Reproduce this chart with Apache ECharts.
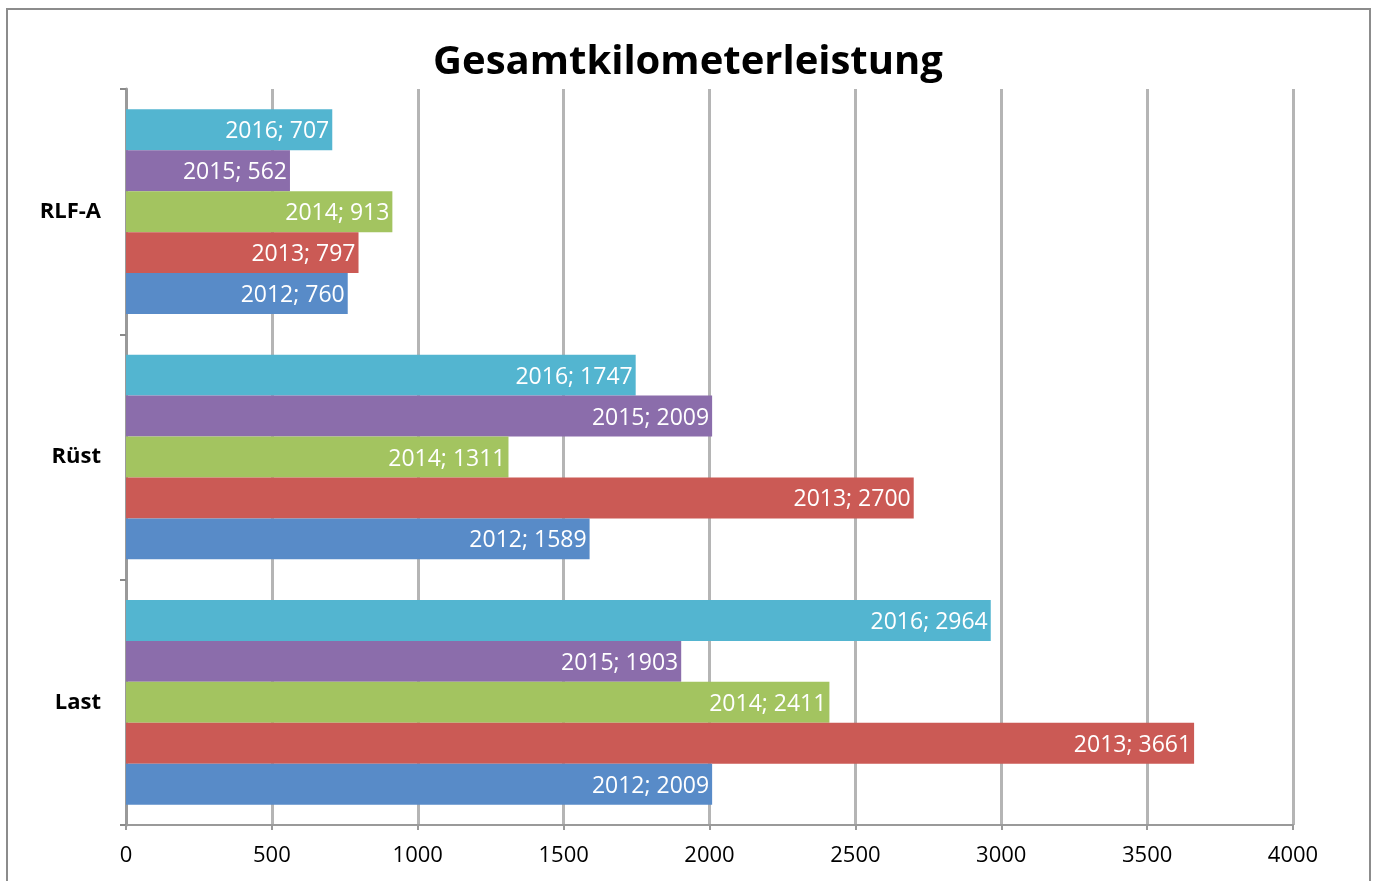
<!DOCTYPE html>
<html>
<head>
<meta charset="utf-8">
<script src="https://cdn.jsdelivr.net/npm/echarts@6/dist/echarts.min.js"></script>
<style>
html,body{margin:0;padding:0;background:#fff;}
#main{width:1376px;height:881px;}
</style>
</head>
<body>
<div id="main"></div>
<script>
var categories = ['Last', 'Rüst', 'RLF-A'];
var years = ['2012', '2013', '2014', '2015', '2016'];
var v2012 = [2009, 1589, 760];
var v2013 = [3661, 2700, 797];
var v2014 = [2411, 1311, 913];
var v2015 = [1903, 2009, 562];
var v2016 = [2964, 1747, 707];
var xTicks = [0, 500, 1000, 1500, 2000, 2500, 3000, 3500, 4000];

var colors = ['#588bc8', '#cb5a55', '#a3c460', '#8b6dab', '#53b5d0'];
var values = [v2012, v2013, v2014, v2015, v2016];
var font = '"Open Sans", "Liberation Sans", sans-serif';

var myChart = echarts.init(document.getElementById('main'));

// echarts puts the first bar series on top, so go backwards (2012 ends up at the bottom)
var series = [];
for (var i = years.length - 1; i >= 0; i--) {
    series.push({
        name: years[i],
        type: 'bar',
        data: values[i],
        barGap: '0%',
        barCategoryGap: '16.6%',
        itemStyle: {color: colors[i]},
        label: {
            show: true,
            position: 'insideRight',
            distance: 3,
            offset: [0, 2],
            color: '#fff',
            fontSize: 23,
            fontFamily: font,
            formatter: function (p) { return p.seriesName + '; ' + p.value; }
        }
    });
}

var option = {
    animation: false,
    title: {
        text: 'Gesamtkilometerleistung',
        left: 'center',
        top: 38,
        textStyle: {fontSize: 40, fontWeight: 'bold', color: '#000', fontFamily: font}
    },
    graphic: [{
        type: 'rect',
        shape: {x: 7, y: 9, width: 1363, height: 900},
        style: {fill: null, stroke: '#8c8c8c', lineWidth: 2},
        silent: true
    }],
    grid: {left: 126, right: 83, top: 89, bottom: 56},
    xAxis: {
        type: 'value',
        min: 0,
        max: xTicks[xTicks.length - 1],
        interval: 500,
        axisLine: {show: true, lineStyle: {color: '#9a9a9a', width: 2}},
        axisTick: {show: true, length: 5, lineStyle: {color: '#9a9a9a', width: 2}},
        axisLabel: {fontSize: 22, color: '#000', margin: 20, fontFamily: font,
            formatter: function (v) { return String(v); }},
        splitLine: {show: true, lineStyle: {color: '#b5b5b5', width: 3}}
    },
    yAxis: {
        type: 'category',
        data: categories,
        axisLine: {show: true, lineStyle: {color: '#9a9a9a', width: 3}},
        axisTick: {show: true, length: 6, lineStyle: {color: '#8a8a8a', width: 2}},
        axisLabel: {fontSize: 22, fontWeight: 'bold', color: '#000', margin: 25, fontFamily: font}
    },
    series: series
};

myChart.setOption(option, true);
</script>
</body>
</html>
